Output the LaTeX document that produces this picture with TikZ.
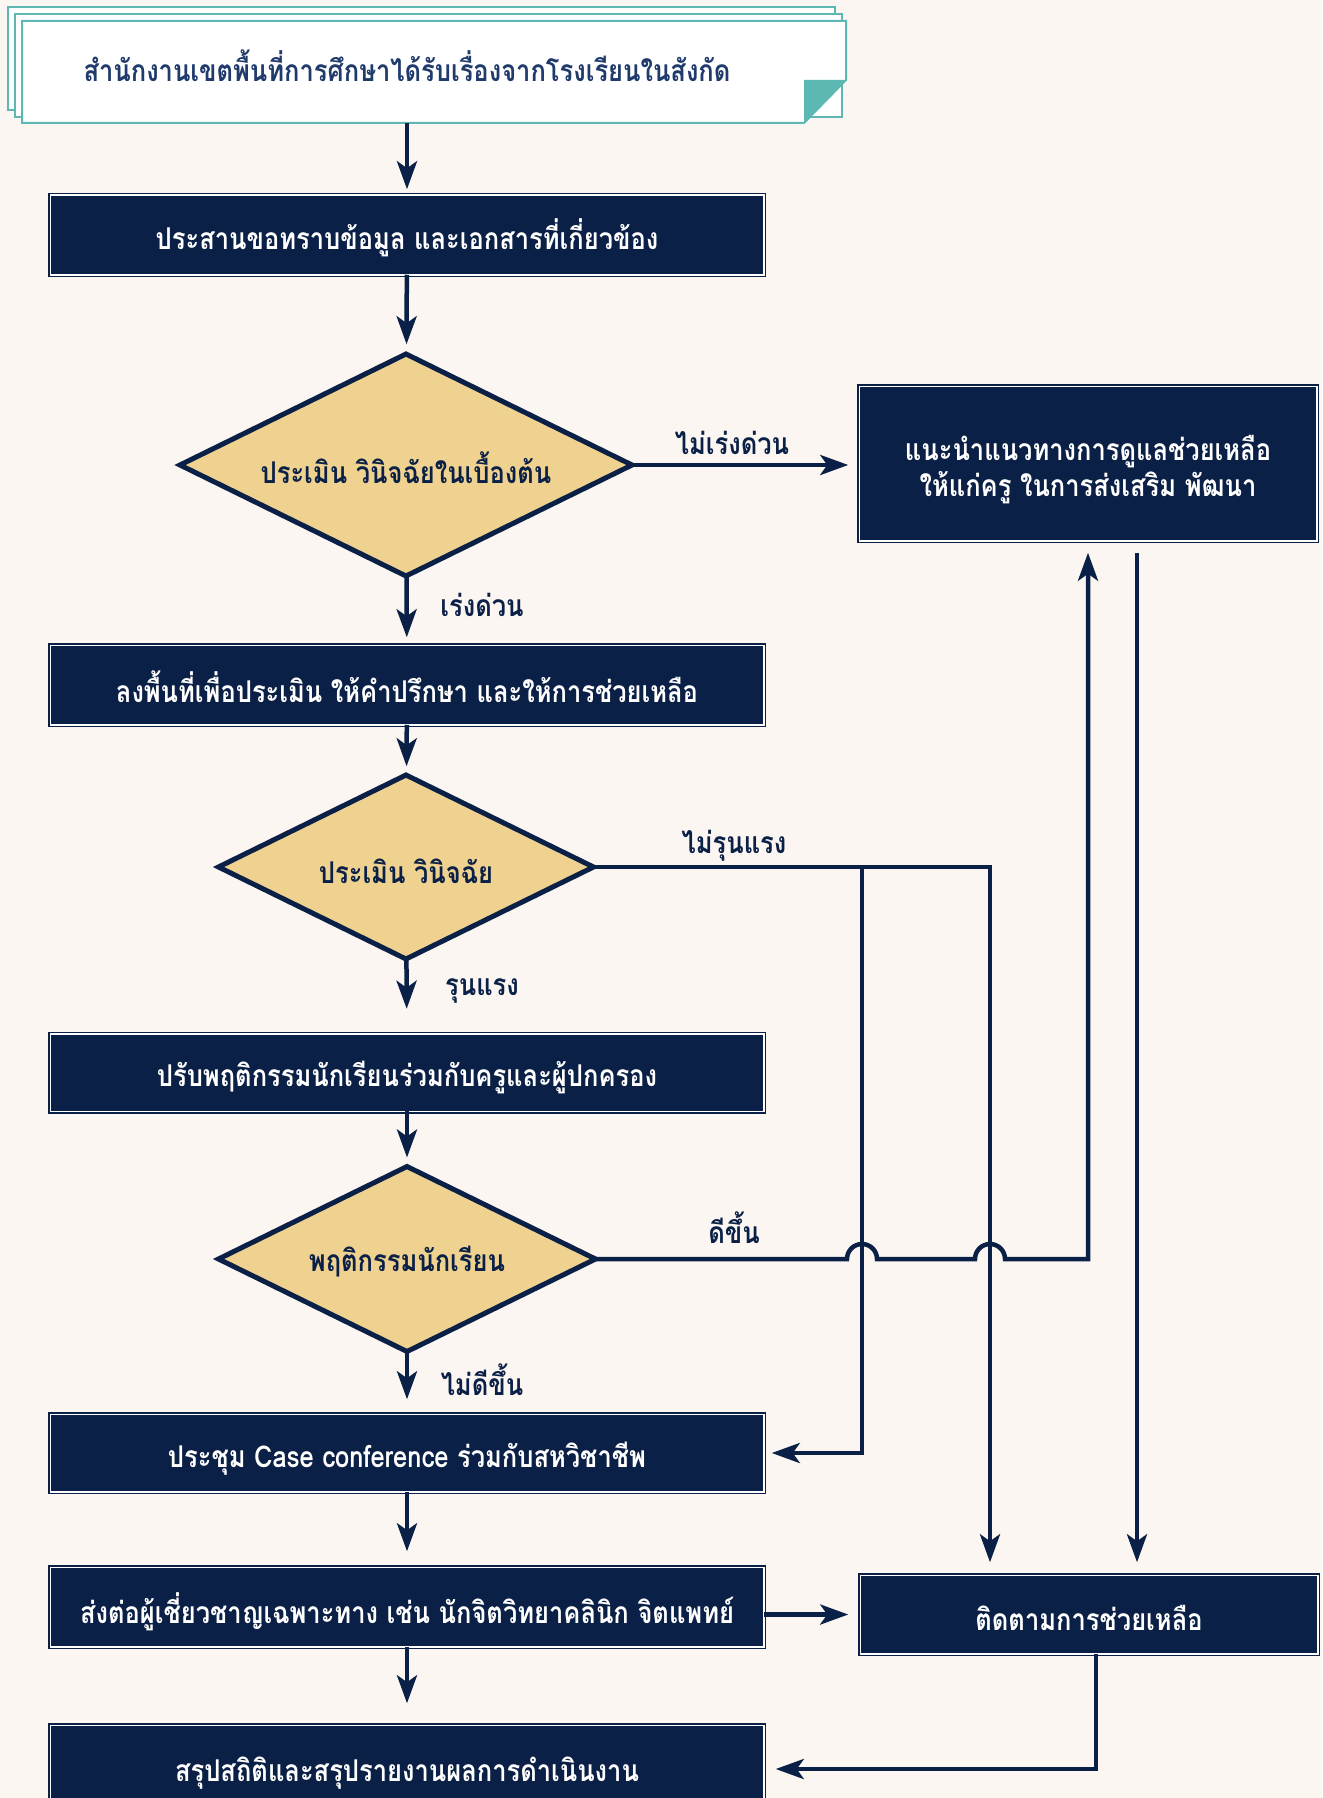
\documentclass[tikz,border=0pt]{standalone}
\usepackage{fontspec}
\newfontfamily\thaifont[Script=Thai, FakeStretch=0.85]{Loma}
\usetikzlibrary{arrows.meta,shapes.geometric}
\definecolor{navy}{HTML}{0B2046}
\definecolor{bgc}{HTML}{FBF6F2}
\definecolor{sand}{HTML}{F0D290}
\definecolor{tealc}{HTML}{5DB8B4}
\definecolor{ink}{HTML}{1F3A6B}
\newcommand\lowerby[2]{\raisebox{-#1}[\height][\depth]{#2}}
\begin{document}
\begin{tikzpicture}[x=1pt,y=-1pt,
  procbox/.style={draw=navy, double=white, line width=1.5pt, double distance=1.5pt,
    fill=navy, text=white, inner sep=0pt, outer sep=0pt,
    font=\thaifont\bfseries\fontsize{30}{36}\selectfont},
  decide/.style={shape=diamond, draw=navy, line width=5pt, fill=sand, text=navy,
    inner sep=0pt, outer sep=0pt, aspect=2,
    font=\thaifont\bfseries\fontsize{30}{36}\selectfont},
  lbl/.style={text=navy, inner sep=0pt, font=\thaifont\bfseries\fontsize{30}{36}\selectfont},
  conn/.style={draw=navy, line width=4.5pt},
  arr/.style={conn, -{Stealth[length=28pt,width=20pt,inset=7pt]}},
  sheet/.style={draw=tealc, line width=2pt, fill=white}
]
\fill[bgc] (0,0) rectangle (1322,1798);
\useasboundingbox (0,0) rectangle (1322,1798);

% paper stack
\draw[sheet] (8,7) rectangle (835,110);
\draw[sheet] (15,14) rectangle (842,117);
\draw[sheet] (22,21) -- (846,21) -- (846,80) -- (804,123) -- (22,123) -- cycle;
\fill[tealc] (804,80) -- (846,80) -- (804,123) -- cycle;
\node[lbl, text=ink] (papertext) at (407,66) {สำนักงานเขตพื้นที่การศึกษาได้รับเรื่องจากโรงเรียนในสังกัด};
\coordinate (paperbot) at (407,123);

% main column
\node[procbox, minimum width=713.5pt, minimum height=79.5pt] (box1) at (407,235) {\lowerby{3pt}{ประสานขอทราบข้อมูล และเอกสารที่เกี่ยวข้อง}};
\node[decide, minimum width=452pt, minimum height=222pt] (d1) at (406,465) {\lowerby{3pt}{ประเมิน วินิจฉัยในเบื้องต้น}};
\node[procbox, minimum width=713.5pt, minimum height=79.5pt] (box2) at (407,685) {\lowerby{2pt}{ลงพื้นที่เพื่อประเมิน ให้คำปรึกษา และให้การช่วยเหลือ}};
\node[decide, minimum width=375pt, minimum height=184pt] (d2) at (406,867) {\lowerby{4pt}{ประเมิน วินิจฉัย}};
\node[procbox, minimum width=713.5pt, minimum height=77.5pt] (box3) at (407,1072.5) {\lowerby{5pt}{ปรับพฤติกรรมนักเรียนร่วมกับครูและผู้ปกครอง}};
\node[decide, minimum width=377pt, minimum height=185pt] (d3) at (407,1259) {\lowerby{3pt}{พฤติกรรมนักเรียน}};
\node[procbox, minimum width=713.5pt, minimum height=77.5pt] (box5) at (407,1453) {\lowerby{6pt}{ประชุม Case conference ร่วมกับสหวิชาชีพ}};
\node[procbox, minimum width=713.5pt, minimum height=79.5pt] (box6) at (407,1607) {\lowerby{5pt}{ส่งต่อผู้เชี่ยวชาญเฉพาะทาง เช่น นักจิตวิทยาคลินิก จิตแพทย์}};
\node[procbox, minimum width=713.5pt, minimum height=87.5pt] (box7) at (407,1769) {\lowerby{4pt}{สรุปสถิติและสรุปรายงานผลการดำเนินงาน}};

% right column
\node[procbox, minimum width=457.5pt, minimum height=154.5pt] (rb1) at (1088,463.5) {\lowerby{8pt}{\begin{tabular}{@{}c@{}}แนะนำแนวทางการดูแลช่วยเหลือ\\ให้แก่ครู ในการส่งเสริม พัฒนา\end{tabular}}};
\node[procbox, minimum width=457.5pt, minimum height=78.5pt] (trk) at (1089,1614.5) {\lowerby{3pt}{ติดตามการช่วยเหลือ}};

\coordinate (colA) at (862,0);
\coordinate (colB) at (990,0);
\coordinate (colD) at (1137,0);
\coordinate (colE) at (1096,0);

% connectors
\draw[arr, shorten >=6pt] (paperbot) -- (box1);
\draw[arr, shorten >=10pt] (box1) -- (d1);
\draw[arr, shorten >=11pt] (d1.east) -- (d1.east -| rb1.west);
\draw[arr, shorten >=8pt] (d1) -- (box2);
\draw[arr, shorten >=9pt] (box2) -- (d2);
\draw[arr, shorten >=25pt] (d2) -- (box3);
\draw[arr, shorten >=9pt] (box3) -- (d3);
\draw[arr, shorten >=15pt] (d3) -- (box5);
\draw[arr, shorten >=16pt] (box5) -- (box6);
\draw[arr, shorten >=22pt] (box6) -- (box7);
\draw[arr, shorten >=12pt] (box6.east |- trk.west) -- (trk.west);

\draw[arr, shorten >=13pt] (d2.east) -- (colB |- d2.east) -- (colB |- trk.north);
\draw[arr, shorten >=8pt] (colA |- d2.east) -- (colA |- box5.east) -- (box5.east);
\draw[arr, shorten >=12pt] (d3.east) -- ([xshift=-15pt]colA |- d3.east)
   arc[start angle=180, end angle=0, radius=15pt]
   -- ([xshift=-15pt]colB |- d3.east)
   arc[start angle=180, end angle=0, radius=15pt]
   -- (rb1.south |- d3.east) -- (rb1.south);
\draw[arr, shorten <=12pt, shorten >=13pt] (colD |- rb1.south) -- (colD |- trk.north);
\draw[arr, shorten >=12pt] (colE |- trk.south) -- (colE |- box7.east) -- (box7.east);

% labels
\node[lbl] (l1) at (732,443) {ไม่เร่งด่วน};
\node[lbl] (l2) at (482,605) {เร่งด่วน};
\node[lbl] (l3) at (734,846) {ไม่รุนแรง};
\node[lbl] (l4) at (482,991) {รุนแรง};
\node[lbl] (l5) at (734,1228) {ดีขึ้น};
\node[lbl] (l6) at (482,1380) {ไม่ดีขึ้น};
\end{tikzpicture}
\end{document}
